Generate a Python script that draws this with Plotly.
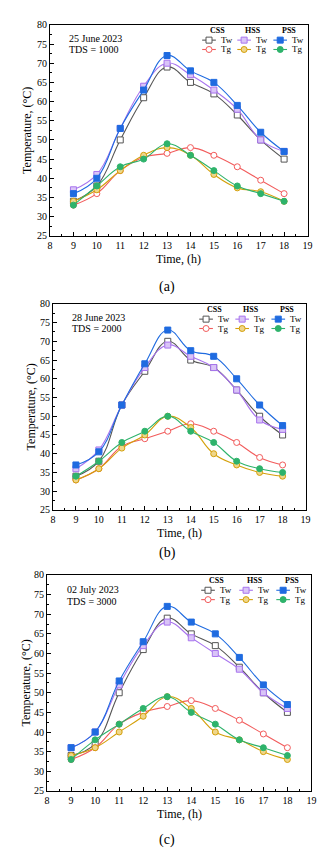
import plotly.graph_objects as go

# time of day (h)
hours = [9, 10, 11, 12, 13, 14, 15, 16, 17, 18]

# (a) 25 June 2023, TDS = 1000
css_tw_a = [34, 38, 50, 61, 69, 65, 62, 56.5, 50, 45]
css_tg_a = [33, 36, 42, 45.5, 46.5, 48, 46, 43, 39.5, 36]
hss_tw_a = [37, 41, 53, 64, 70, 67, 63, 58, 50, 47]
hss_tg_a = [34, 37, 42, 46, 48, 46, 41, 37.5, 36.5, 34]
pss_tw_a = [36, 40, 53, 63, 72, 68, 65, 59, 52, 47]
pss_tg_a = [33, 38, 43, 45, 49, 46, 42, 38, 36, 34]

# (b) 28 June 2023, TDS = 2000
css_tw_b = [34, 38, 53, 62, 70, 65, 63, 57, 50, 45]
css_tg_b = [33, 36, 42, 44, 46, 48, 46, 43, 39, 37]
hss_tw_b = [36, 41, 53, 63, 69, 66, 63, 57, 49, 46.5]
hss_tg_b = [33, 36, 41.5, 45, 50, 47, 40, 37, 35, 34]
pss_tw_b = [37, 40.5, 53, 64, 73, 67.5, 66, 60, 53, 47.5]
pss_tg_b = [34, 38, 43, 46, 50, 46, 43, 38, 36, 35]

# (c) 02 July 2023, TDS = 3000
css_tw_c = [34, 37, 50, 61, 69, 65, 62, 56.5, 50, 45]
css_tg_c = [33, 36, 42, 45, 46.5, 48, 46, 43, 39.5, 36]
hss_tw_c = [36, 40, 52, 62, 68, 64, 60, 56, 50, 46]
hss_tg_c = [34, 36, 40, 44, 49, 46, 40, 38, 35, 33]
pss_tw_c = [36, 40, 53, 63, 72, 68, 65, 59, 52, 47]
pss_tg_c = [33, 38, 42, 46, 49, 45, 42, 38, 36, 34]

dates = ["25 June 2023", "28 June 2023", "02 July 2023"]
tds = ["TDS = 1000", "TDS = 2000", "TDS = 3000"]
captions = ["(a)", "(b)", "(c)"]
groups = ["CSS", "HSS", "PSS"]
y_ticks = [25, 30, 35, 40, 45, 50, 55, 60, 65, 70, 75, 80]
x_ticks = [8, 9, 10, 11, 12, 13, 14, 15, 16, 17, 18, 19]

W, H = 325, 851
FONT = "Liberation Serif"

# series styles: (color, symbol, fill)
styles = {
    "css_tw": ("#555555", "square", "white"),
    "css_tg": ("#f25c5c", "circle", "white"),
    "hss_tw": ("#a874ee", "square", "#d9c4f7"),
    "hss_tg": ("#d4a00a", "circle", "#efd68a"),
    "pss_tw": ("#1f6be0", "square", "#1f6be0"),
    "pss_tg": ("#2eb36b", "circle", "#2eb36b"),
}

panels = [
    {"css_tw": css_tw_a, "css_tg": css_tg_a, "hss_tw": hss_tw_a,
     "hss_tg": hss_tg_a, "pss_tw": pss_tw_a, "pss_tg": pss_tg_a},
    {"css_tw": css_tw_b, "css_tg": css_tg_b, "hss_tw": hss_tw_b,
     "hss_tg": hss_tg_b, "pss_tw": pss_tw_b, "pss_tg": pss_tg_b},
    {"css_tw": css_tw_c, "css_tg": css_tg_c, "hss_tw": hss_tw_c,
     "hss_tg": hss_tg_c, "pss_tw": pss_tw_c, "pss_tg": pss_tg_c},
]

# plot boxes in pixels: left, right, top, bottom
boxes = [(40, 304, 11, 225), (43, 302, 294, 503), (37, 308, 569, 788)]
legend_x = [(212, 248, 285), (209, 246, 283), (211, 250, 288)]
note_pos = [(57, 14, 25), (60, 14, 25), (55, 15, 27)]
ytitle_x = [17, 20, 15]
cap_gap = [52, 44, 50]


def px(x):
    return x / W


def py(y):
    return 1 - y / H


fig = go.Figure()
layout = {}
annotations = []
shapes = []

for i, data in enumerate(panels):
    n = "" if i == 0 else str(i + 1)
    l, r, t, b = boxes[i]
    for key in ["css_tw", "hss_tw", "pss_tw", "css_tg", "hss_tg", "pss_tg"]:
        color, symbol, fill = styles[key]
        fig.add_trace(go.Scatter(
            x=hours, y=data[key], mode="lines+markers",
            line=dict(color=color, width=1.1, shape="spline", smoothing=1.2),
            marker=dict(symbol=symbol, size=6, color=fill,
                        line=dict(color=color, width=1)),
            xaxis="x" + n, yaxis="y" + n, showlegend=False,
        ))

    common = dict(showline=True, linecolor="black", linewidth=1, mirror=True,
                  ticks="inside", ticklen=4, tickwidth=1, tickcolor="black",
                  showgrid=False, zeroline=False,
                  tickfont=dict(family=FONT, size=10, color="black"))
    layout["xaxis" + n] = dict(
        common, domain=[px(l), px(r)], range=[8, 19], tickvals=x_ticks,
        anchor="y" + n,
        minor=dict(dtick=0.5, ticks="inside", ticklen=2, tickcolor="black"))
    layout["yaxis" + n] = dict(
        common, domain=[py(b), py(t)], range=[25, 80], tickvals=y_ticks,
        anchor="x" + n,
        minor=dict(dtick=2.5, ticks="inside", ticklen=2, tickcolor="black"))

    # notes
    nx, ny1, ny2 = note_pos[i]
    for txt, dy in [(dates[i], ny1), (tds[i], ny2)]:
        annotations.append(dict(
            text=txt, x=px(nx), y=py(t + dy), xref="paper", yref="paper",
            xanchor="left", yanchor="middle", showarrow=False,
            font=dict(family=FONT, size=10, color="black")))

    # axis titles and caption
    annotations.append(dict(
        text="Time, (h)", x=px((l + r) / 2), y=py(b + 23), xref="paper",
        yref="paper", showarrow=False, xanchor="center", yanchor="middle",
        font=dict(family=FONT, size=12, color="black")))
    annotations.append(dict(
        text="Temperature, (°C)", x=px(ytitle_x[i]), y=py((t + b) / 2),
        xref="paper", yref="paper", showarrow=False, textangle=-90,
        xanchor="center", yanchor="middle",
        font=dict(family=FONT, size=12, color="black")))
    annotations.append(dict(
        text=captions[i], x=px(160), y=py(b + cap_gap[i]), xref="paper",
        yref="paper", showarrow=False, xanchor="center", yanchor="middle",
        font=dict(family=FONT, size=14, color="black")))

    # legend
    for g, hx in zip(groups, legend_x[i]):
        annotations.append(dict(
            text="<b>" + g + "</b>", x=px(hx), y=py(t + 6), xref="paper",
            yref="paper", showarrow=False, xanchor="center",
            yanchor="middle", font=dict(family=FONT, size=8, color="black")))
        for lab, dy in [("tw", 15.5), ("tg", 25)]:
            key = g.lower() + "_" + lab
            color, symbol, fill = styles[key]
            yy = t + dy
            shapes.append(dict(
                type="line", xref="paper", yref="paper",
                x0=px(hx - 16), x1=px(hx - 2), y0=py(yy), y1=py(yy),
                line=dict(color=color, width=1.1)))
            shapes.append(dict(
                type="rect" if symbol == "square" else "circle",
                xref="paper", yref="paper", xsizemode="pixel",
                ysizemode="pixel", xanchor=px(hx - 9), yanchor=py(yy),
                x0=-3, x1=3, y0=-3, y1=3, fillcolor=fill,
                line=dict(color=color, width=1)))
            annotations.append(dict(
                text="Tw" if lab == "tw" else "Tg", x=px(hx + 1), y=py(yy),
                xref="paper", yref="paper", showarrow=False,
                xanchor="left", yanchor="middle",
                font=dict(family=FONT, size=9, color="black")))

fig.update_layout(
    width=W, height=H,
    margin=dict(l=0, r=0, t=0, b=0),
    paper_bgcolor="white", plot_bgcolor="white",
    annotations=annotations, shapes=shapes,
    **layout,
)

fig.write_html("out.html")
